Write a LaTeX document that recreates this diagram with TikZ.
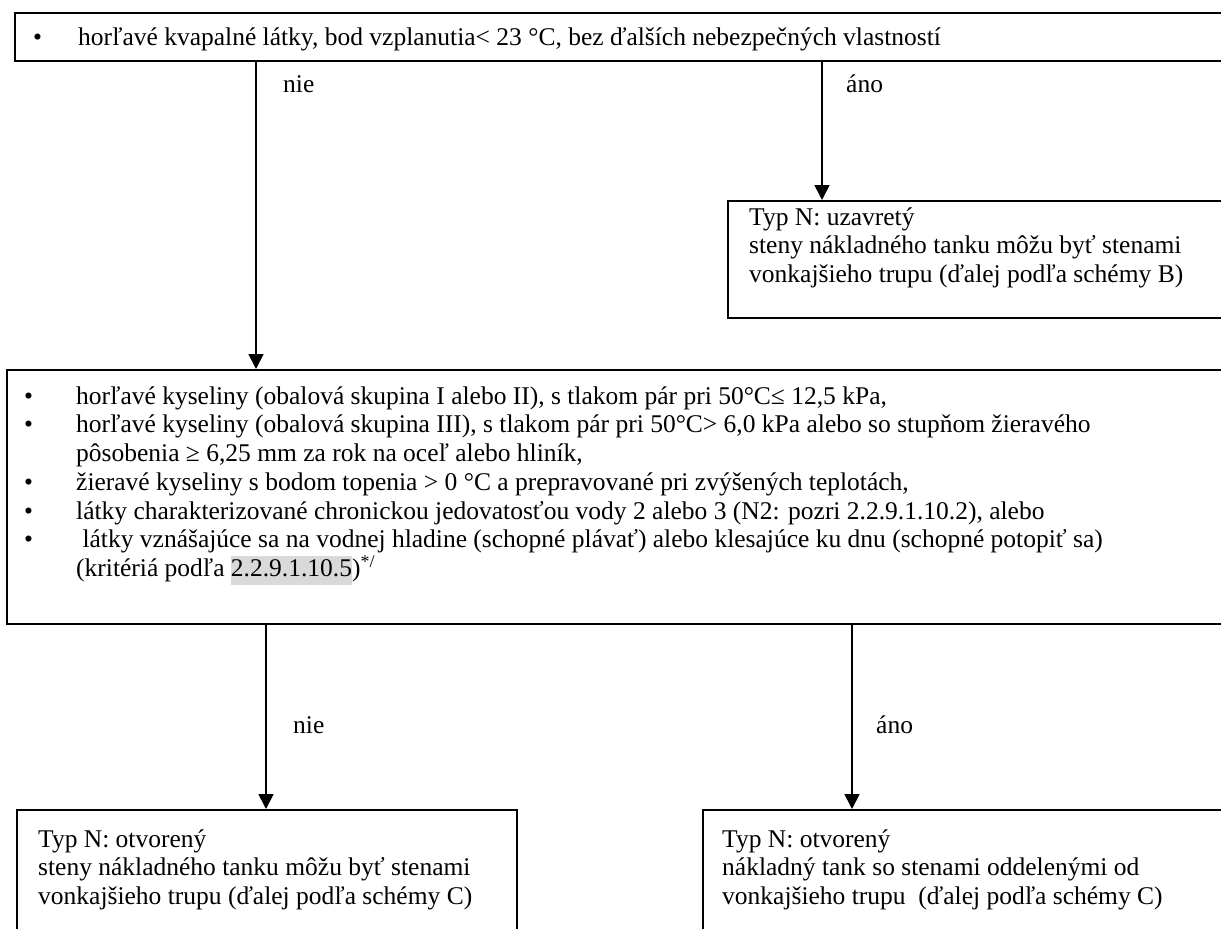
\documentclass[tikz,border=0pt]{standalone}
\usepackage{fontspec}
\setmainfont{Liberation Serif}
\usetikzlibrary{arrows.meta}
\definecolor{hl}{HTML}{D9D9D9}
\begin{document}
\begin{tikzpicture}[x=1pt,y=-1pt,
  box/.style={draw, line width=1.7pt, inner sep=0pt, anchor=north west},
  txt/.style={anchor=base west, inner sep=0pt, font=\fontsize{25.5}{28.75}\selectfont},
  arr/.style={line width=1.7pt, -{Triangle[length=15pt,width=15pt]}}]
\useasboundingbox (0,0) rectangle (1221,929);
\clip (0,0) rectangle (1221,929);
\fill[white] (0,0) rectangle (1221,929);
% boxes
\node[box, minimum width=1216pt, minimum height=48pt] (top) at (14,12) {};
\node[box, minimum width=503pt, minimum height=117pt] (closed) at (727,200) {};
\node[box, minimum width=1224pt, minimum height=254pt] (mid) at (6,369) {};
\node[box, minimum width=500pt, minimum height=180pt] (openA) at (16,809) {};
\node[box, minimum width=528pt, minimum height=180pt] (openB) at (702,809) {};
% arrow columns
\coordinate (c1) at (256,0);
\coordinate (c2) at (822,0);
\coordinate (c3) at (266,0);
\coordinate (c4) at (852,0);
\draw[arr] (top.south -| c1) -- (mid.north -| c1);
\draw[arr] (top.south -| c2) -- (closed.north -| c2);
\draw[arr] (mid.south -| c3) -- (openA.north -| c3);
\draw[arr] (mid.south -| c4) -- (openB.north -| c4);
% labels
\node[txt] (l1) at (283,92) {nie};
\node[txt] (l2) at (846,92) {áno};
\node[txt] (l3) at (293,733) {nie};
\node[txt] (l4) at (876,733) {áno};
% top text
\node[txt] (tb) at (33,45) {•};
\node[txt] (tt) at (78,45) {horľavé kvapalné látky, bod vzplanutia< 23 °C, bez ďalších nebezpečných vlastností};
% closed box text
\node[txt] (k1) at (749,225) {Typ N: uzavretý};
\node[txt] (k2) at (749,253.75) {steny nákladného tanku môžu byť stenami};
\node[txt] (k3) at (749,282.5) {vonkajšieho trupu (ďalej podľa schémy B)};
% middle text
\node[txt] (b1) at (24,404) {•};
\node[txt] (b2) at (24,432.75) {•};
\node[txt] (b3) at (24,490.25) {•};
\node[txt] (b4) at (24,519) {•};
\node[txt] (b5) at (24,547.75) {•};
\node[txt] (m1) at (76,404) {horľavé kyseliny (obalová skupina I alebo II), s tlakom pár pri 50°C≤ 12,5 kPa,};
\node[txt] (m2) at (76,432.75) {horľavé kyseliny (obalová skupina III), s tlakom pár pri 50°C> 6,0 kPa alebo so stupňom žieravého};
\node[txt] (m3) at (76,461.5) {pôsobenia ≥ 6,25 mm za rok na oceľ alebo hliník,};
\node[txt] (m4) at (76,490.25) {žieravé kyseliny s bodom topenia > 0 °C a prepravované pri zvýšených teplotách,};
\node[txt] (m5) at (76,519) {látky charakterizované chronickou jedovatosťou vody 2 alebo 3 (N2: pozri 2.2.9.1.10.2), alebo};
\node[txt] (m6) at (76,547.75) {\ látky vznášajúce sa na vodnej hladine (schopné plávať) alebo klesajúce ku dnu (schopné potopiť sa)};
\node[txt] (m7) at (76,576.5) {(kritériá podľa {\setlength\fboxsep{0pt}\colorbox{hl}{\strut 2.2.9.1.10.5}})\textsuperscript{*/}};
% bottom boxes text
\node[txt] (a1) at (38,847) {Typ N: otvorený};
\node[txt] (a2) at (38,875.75) {steny nákladného tanku môžu byť stenami};
\node[txt] (a3) at (38,904.5) {vonkajšieho trupu (ďalej podľa schémy C)};
\node[txt] (o1) at (722,847) {Typ N: otvorený};
\node[txt] (o2) at (722,875.75) {nákladný tank so stenami oddelenými od};
\node[txt] (o3) at (722,904.5) {vonkajšieho trupu\ \ (ďalej podľa schémy C)};
\end{tikzpicture}
\end{document}
